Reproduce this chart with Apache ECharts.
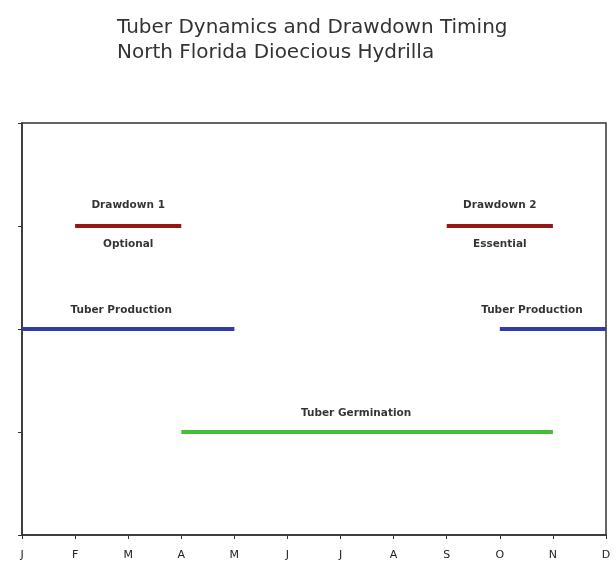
<!DOCTYPE html>
<html><head><meta charset="utf-8">
<script src="https://cdn.jsdelivr.net/npm/echarts@6/dist/echarts.min.js"></script>
<style>html,body{margin:0;padding:0;background:#fff}#c{width:616px;height:564px}</style>
</head><body><div id="c"></div>
<script>
// Month tick labels (x = 0..11)
const monthLabels = ['J','F','M','A','M','J','J','A','S','O','N','D'];
// Segments: [startMonth, endMonth, level]
const drawdown1 = [1, 3, 3];
const drawdown2 = [8, 10, 3];
const tuberProd1 = [0, 4, 2];
const tuberProd2 = [9, 11, 2];
const tuberGerm = [3, 10, 1];
const aboveLabels = ['Drawdown 1', 'Drawdown 2', 'Tuber Production', 'Tuber Production', 'Tuber Germination'];
const belowLabels = ['Optional', 'Essential'];

const segs = [
  {d: drawdown1, color: '#961616', above: aboveLabels[0], below: belowLabels[0], dist: 15},
  {d: drawdown2, color: '#961616', above: aboveLabels[1], below: belowLabels[1], dist: 15},
  {d: tuberProd1, color: '#2f3ca6', above: aboveLabels[2], dx: -7, dist: 13},
  {d: tuberProd2, color: '#2f3ca6', above: aboveLabels[3], dx: -21, dist: 13},
  {d: tuberGerm, color: '#43bf3c', above: aboveLabels[4], dx: -11, dist: 13}
];

const FONT = 'DejaVu Sans, Liberation Sans, Arial, sans-serif';
const series = [];
segs.forEach(s => {
  const mid = (s.d[0] + s.d[1]) / 2;
  const lbl = [];
  lbl.push({value: [mid, s.d[2]], label: {show: true, formatter: s.above, position: 'top', distance: s.dist, offset: [s.dx || 0, 0]}});
  if (s.below) lbl.push({value: [mid, s.d[2]], label: {show: true, formatter: s.below, position: 'bottom', distance: 13}});
  series.push({
    type: 'line', data: [[s.d[0], s.d[2]], [s.d[1], s.d[2]]],
    symbol: 'none', lineStyle: {color: s.color, width: 4}, silent: true, z: 3
  });
  series.push({
    type: 'scatter', data: lbl, symbolSize: 0, silent: true,
    label: {color: '#000', fontSize: 10.5, fontWeight: 'bold', fontFamily: FONT}, z: 4
  });
});

const chart = echarts.init(document.getElementById('c'));
chart.setOption({
  animation: false,
  backgroundColor: '#fff',
  title: {
    text: 'Tuber Dynamics and Drawdown Timing\nNorth Florida Dioecious Hydrilla',
    left: 112, top: 10,
    textStyle: {fontSize: 20, fontWeight: 'normal', color: '#333', lineHeight: 25, fontFamily: FONT}
  },
  grid: {left: 22, right: 10, top: 123, bottom: 29, show: true, borderColor: '#333', borderWidth: 1.5},
  xAxis: {
    type: 'value', min: 0, max: 11, interval: 1,
    axisLine: {lineStyle: {color: '#333', width: 1.5}},
    axisTick: {inside: false, length: 4, lineStyle: {color: '#333'}},
    axisLabel: {formatter: v => monthLabels[v] || '', color: '#222', fontSize: 11, margin: 15, fontFamily: FONT},
    splitLine: {show: false}
  },
  yAxis: {
    type: 'value', min: 0, max: 4, interval: 1,
    axisLine: {show: true, lineStyle: {color: '#333', width: 1.5}},
    axisTick: {show: true, length: 4, lineStyle: {color: '#333'}},
    axisLabel: {show: false},
    splitLine: {show: false}
  },
  series: series
});
</script></body></html>
